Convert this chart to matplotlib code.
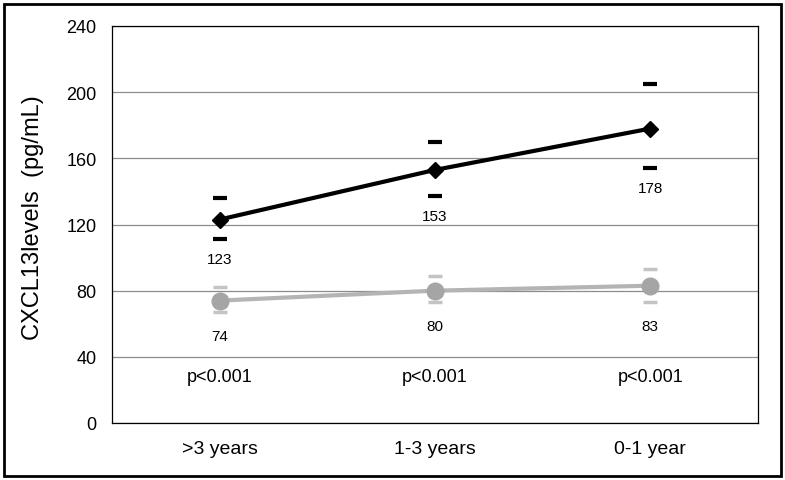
import matplotlib
matplotlib.use("Agg")
import matplotlib.pyplot as plt
from matplotlib.patches import Rectangle

plt.rcParams['font.family'] = ['Liberation Sans', 'DejaVu Sans']

categories = [">3 years", "1-3 years", "0-1 year"]
black_vals = [123, 153, 178]
black_upper = [136, 170, 205]
black_lower = [111, 137, 154]
gray_vals = [74, 80, 83]
gray_upper = [82, 89, 93]
gray_lower = [67, 73, 73]
pvals = ["p<0.001", "p<0.001", "p<0.001"]
yticks = [0, 40, 80, 120, 160, 200, 240]

fig = plt.figure(figsize=(7.85, 4.81), dpi=100)
ax = fig.add_axes([112/785, 1 - 424/481, (758-112)/785, (424-27)/481])

x = list(range(len(categories)))

# gray series
ax.errorbar(x, gray_vals,
            yerr=[[v - l for v, l in zip(gray_vals, gray_lower)],
                  [u - v for v, u in zip(gray_vals, gray_upper)]],
            fmt='none', ecolor='#c4c4c4', elinewidth=0, capsize=5, capthick=2.5, zorder=3)
ax.plot(x, gray_vals, color='#b4b4b4', lw=3, marker='o', ms=12,
        mfc='#a5a5a5', mec='#a5a5a5', zorder=4)

# black series
ax.errorbar(x, black_vals,
            yerr=[[v - l for v, l in zip(black_vals, black_lower)],
                  [u - v for v, u in zip(black_vals, black_upper)]],
            fmt='none', ecolor='black', elinewidth=0, capsize=5, capthick=3, zorder=3)
ax.plot(x, black_vals, color='black', lw=3, marker='D', ms=8.5, zorder=5)

for xi, v, lo in zip(x, black_vals, black_lower):
    ax.annotate(str(v), (xi, lo), xytext=(0, -14), textcoords='offset points',
                ha='center', va='center', fontsize=11)
for xi, v, lo in zip(x, gray_vals, gray_lower):
    ax.annotate(str(v), (xi, lo), xytext=(0, -17), textcoords='offset points',
                ha='center', va='center', fontsize=11)

for xi, p in zip(x, pvals):
    ax.text(xi, 28, p, ha='center', va='center', fontsize=13)

ax.set_xlim(-0.5, 2.5)
ax.set_ylim(0, 240)
ax.set_yticks(yticks)
ax.set_xticks(x)
ax.set_xticklabels(categories, fontsize=14)
ax.tick_params(axis='both', length=0)
ax.tick_params(axis='y', labelsize=13, pad=11)
ax.tick_params(axis='x', pad=12)
ax.yaxis.grid(True, color='#8c8c8c', lw=0.9)
ax.set_axisbelow(True)
for s in ax.spines.values():
    s.set_color('black')
    s.set_linewidth(0.9)
ax.set_ylabel("CXCL13levels  (pg/mL)", fontsize=17)
ax.yaxis.set_label_coords(-0.105, 0.52)

fig.patches.append(Rectangle((4/785, 4/481), 777/785, 472/481, transform=fig.transFigure,
                             fill=False, edgecolor='black', lw=2))

fig.savefig("out.png", dpi=100)
